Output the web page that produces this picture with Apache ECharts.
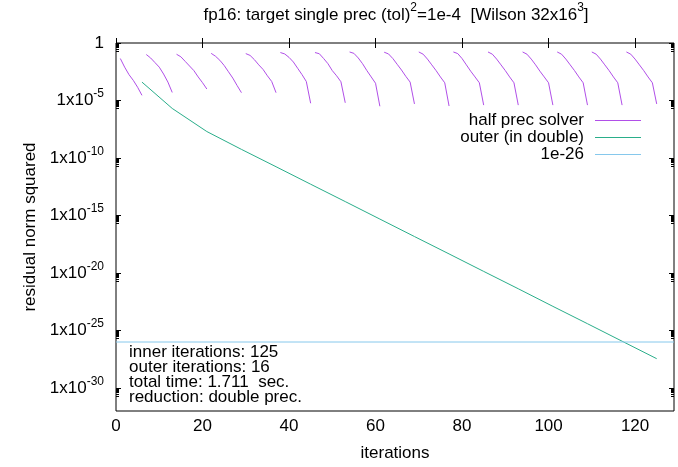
<!DOCTYPE html>
<html>
<head>
<meta charset="utf-8">
<script src="https://cdn.jsdelivr.net/npm/echarts@6/dist/echarts.min.js"></script>
<style>
  html, body { margin: 0; padding: 0; background: #fff; }
  #chart { width: 678px; height: 467px; }
</style>
</head>
<body>
<div id="chart"></div>
<script>
// First iteration number of each inner (half precision) solve
const segmentStarts = [1, 7, 14, 22, 30, 38, 46, 54, 62, 70, 78, 86, 94, 102, 110, 118];

// Residual norm squared of each inner solve, one array per solve
const halfPrecResiduals = [
  [4.47e-2, 7.94e-3, 1.78e-3, 5.62e-4, 1.41e-4, 2.82e-5],
  [1.0e-1, 5.01e-2, 2.0e-2, 7.94e-3, 2.0e-3, 3.98e-4, 5.01e-5],
  [1.05e-1, 6.31e-2, 2.51e-2, 1.0e-2, 3.98e-3, 1.12e-3, 3.55e-4, 1.0e-4],
  [1.26e-1, 7.08e-2, 3.16e-2, 1.12e-2, 3.16e-3, 8.91e-4, 2.0e-4, 4.79e-5],
  [1.2e-1, 8.32e-2, 3.55e-2, 1.26e-2, 5.01e-3, 1.41e-3, 4.47e-4, 4.79e-5],
  [1.48e-1, 1.12e-1, 5.62e-2, 2.24e-2, 6.31e-3, 1.78e-3, 4.47e-4, 5.75e-6],
  [1.48e-1, 1.17e-1, 4.47e-2, 1.58e-2, 3.98e-3, 1.41e-3, 4.27e-4, 6.31e-6],
  [1.66e-1, 1.26e-1, 5.01e-2, 1.58e-2, 3.98e-3, 1.12e-3, 3.16e-4, 3.16e-6],
  [1.58e-1, 1.12e-1, 4.47e-2, 1.41e-2, 4.47e-3, 1.26e-3, 3.98e-4, 5.01e-6],
  [1.66e-1, 1.07e-1, 3.98e-2, 1.26e-2, 3.98e-3, 1.12e-3, 3.47e-4, 3.31e-6],
  [1.66e-1, 1.2e-1, 4.47e-2, 1.26e-2, 3.55e-3, 1.12e-3, 3.47e-4, 3.98e-6],
  [1.66e-1, 1.07e-1, 3.98e-2, 1.26e-2, 3.98e-3, 1.12e-3, 3.47e-4, 3.98e-6],
  [1.66e-1, 1.07e-1, 3.98e-2, 1.26e-2, 3.55e-3, 1.12e-3, 3.47e-4, 3.98e-6],
  [1.66e-1, 1.07e-1, 3.98e-2, 1.26e-2, 3.98e-3, 1.12e-3, 3.47e-4, 3.98e-6],
  [1.66e-1, 1.07e-1, 3.98e-2, 1.26e-2, 3.98e-3, 1.12e-3, 3.47e-4, 3.98e-6],
  [1.66e-1, 1.07e-1, 3.98e-2, 1.26e-2, 3.98e-3, 1.12e-3, 3.47e-4, 5.01e-6]
];

// Outer (double precision) residual after each inner solve
const outerIterations = [6, 13, 21, 29, 37, 45, 53, 61, 69, 77, 85, 93, 101, 109, 117, 125];
const outerResiduals = [3.98e-4, 2.04e-6, 2.0e-8, 5.62e-10, 1.74e-11, 5.25e-13, 1.62e-14, 4.9e-16,
  1.48e-17, 4.57e-19, 1.38e-20, 4.27e-22, 1.26e-23, 3.89e-25, 1.17e-26, 3.55e-28];

const targetLevel = 1e-26;

// Axis extents and ticks
const xRange = [0, 129];
const xTicks = [0, 20, 40, 60, 80, 100, 120];
const yExpRange = [-32, 0];
const yTickExps = [0, -5, -10, -15, -20, -25, -30];

const legendNames = ['half prec solver', 'outer (in double)', '1e-26'];
const infoLines = ['inner iterations: 125', 'outer iterations: 16', 'total time: 1.711  sec.', 'reduction: double prec.'];

const FONT = '"Liberation Sans", Arial, Helvetica, sans-serif';
const FS = 17;
const COLORS = ['#b14fe8', '#2aae8a', '#86c8ec'];

// Build series data in log10 space
const halfData = [];
segmentStarts.forEach((start, s) => {
  halfPrecResiduals[s].forEach((r, k) => halfData.push([start + k, Math.log10(r)]));
  if (s < segmentStarts.length - 1) halfData.push([start + halfPrecResiduals[s].length - 0.5, null]);
});
const outerData = outerIterations.map((it, i) => [it, Math.log10(outerResiduals[i])]);
const targetData = [[xRange[0], Math.log10(targetLevel)], [xRange[1], Math.log10(targetLevel)]];

// Minor ticks inside each decade below a major tick (2..9 x 10^(m-1))
const yMinorExps = [];
yTickExps.forEach(m => {
  for (let k = 2; k <= 9; k++) {
    const v = m - 1 + Math.log10(k);
    if (v >= yExpRange[0] && v <= yExpRange[1]) yMinorExps.push(v);
  }
});

const rich = {
  b: { fontSize: FS, fontFamily: FONT, color: '#000', padding: [4, 0, 4, 0] },
  s: { fontSize: 12, fontFamily: FONT, color: '#000', verticalAlign: 'top' }
};

function yLabel(v) {
  const e = Math.round(v);
  if (e === 0) return '{b|1}';
  return '{b|1x10}{s|' + e + '}';
}

function yAxisDef(position, ticks, len, labels) {
  return {
    type: 'value', position: position, min: yExpRange[0], max: yExpRange[1],
    axisLine: { show: false }, splitLine: { show: false },
    axisTick: { show: true, inside: true, length: len, customValues: ticks, lineStyle: { color: '#000', width: 1 } },
    axisLabel: labels ? { show: true, customValues: yTickExps, formatter: yLabel, rich: rich, margin: 12 } : { show: false }
  };
}

const leftY = yAxisDef('left', yTickExps, 5, true);
leftY.name = 'residual norm squared';
leftY.nameLocation = 'middle';
leftY.nameRotate = 90;
leftY.nameGap = 71;
leftY.nameTextStyle = { fontSize: FS, fontFamily: FONT, color: '#000' };

const option = {
  animation: false,
  backgroundColor: '#fff',
  title: [
    {
      text: '{t|fp16: target single prec (tol)}{s|2}{t|=1e-4  [Wilson 32x16}{s|3}{t|]}',
      left: 396, top: 2, textAlign: 'center', padding: 0,
      textStyle: {
        fontWeight: 'normal',
        rich: {
          t: { fontSize: FS, fontWeight: 'normal', fontFamily: FONT, color: '#000', padding: [5, 0, 5, 0] },
          s: { fontSize: 12, fontWeight: 'normal', fontFamily: FONT, color: '#000', verticalAlign: 'top' }
        }
      }
    },
    {
      text: infoLines.join('\n'),
      left: 129, top: 345, padding: 0,
      textStyle: { fontSize: FS, fontWeight: 'normal', fontFamily: FONT, color: '#000', lineHeight: 15 }
    }
  ],
  grid: { left: 116, right: 4, top: 43, bottom: 51, show: true, borderColor: '#000', borderWidth: 1, backgroundColor: 'transparent' },
  legend: legendNames.map((n, i) => ({
    data: [n], right: 37, top: 112 + i * 17, align: 'right', orient: 'vertical', padding: 0,
    icon: 'rect', itemWidth: 46, itemHeight: 1, selectedMode: false,
    textStyle: { fontSize: FS, fontFamily: FONT, color: '#000', padding: [0, 6, 0, 0] }
  })),
  xAxis: [
    {
      type: 'value', position: 'bottom', min: xRange[0], max: xRange[1],
      axisLine: { show: false }, splitLine: { show: false },
      axisTick: { inside: true, length: 5, customValues: xTicks, lineStyle: { color: '#000' } },
      axisLabel: { customValues: xTicks, margin: 7, fontSize: FS, fontFamily: FONT, color: '#000' },
      name: 'iterations', nameLocation: 'middle', nameGap: 34,
      nameTextStyle: { fontSize: FS, fontFamily: FONT, color: '#000' }
    },
    {
      type: 'value', position: 'top', min: xRange[0], max: xRange[1],
      axisLine: { show: false }, splitLine: { show: false },
      axisTick: { inside: true, length: 5, customValues: xTicks, lineStyle: { color: '#000' } },
      axisLabel: { show: false }
    }
  ],
  yAxis: [
    leftY,
    yAxisDef('left', yMinorExps, 3, false),
    yAxisDef('right', yTickExps, 5, false),
    yAxisDef('right', yMinorExps, 3, false)
  ],
  series: [
    {
      name: legendNames[0], type: 'line', data: halfData, symbol: 'none', connectNulls: false,
      lineStyle: { color: COLORS[0], width: 1 }, itemStyle: { color: COLORS[0] }
    },
    {
      name: legendNames[1], type: 'line', data: outerData, symbol: 'none',
      lineStyle: { color: COLORS[1], width: 1 }, itemStyle: { color: COLORS[1] }
    },
    {
      name: legendNames[2], type: 'line', data: targetData, symbol: 'none',
      lineStyle: { color: COLORS[2], width: 1 }, itemStyle: { color: COLORS[2] }
    }
  ]
};

echarts.init(document.getElementById('chart')).setOption(option);
</script>
</body>
</html>
